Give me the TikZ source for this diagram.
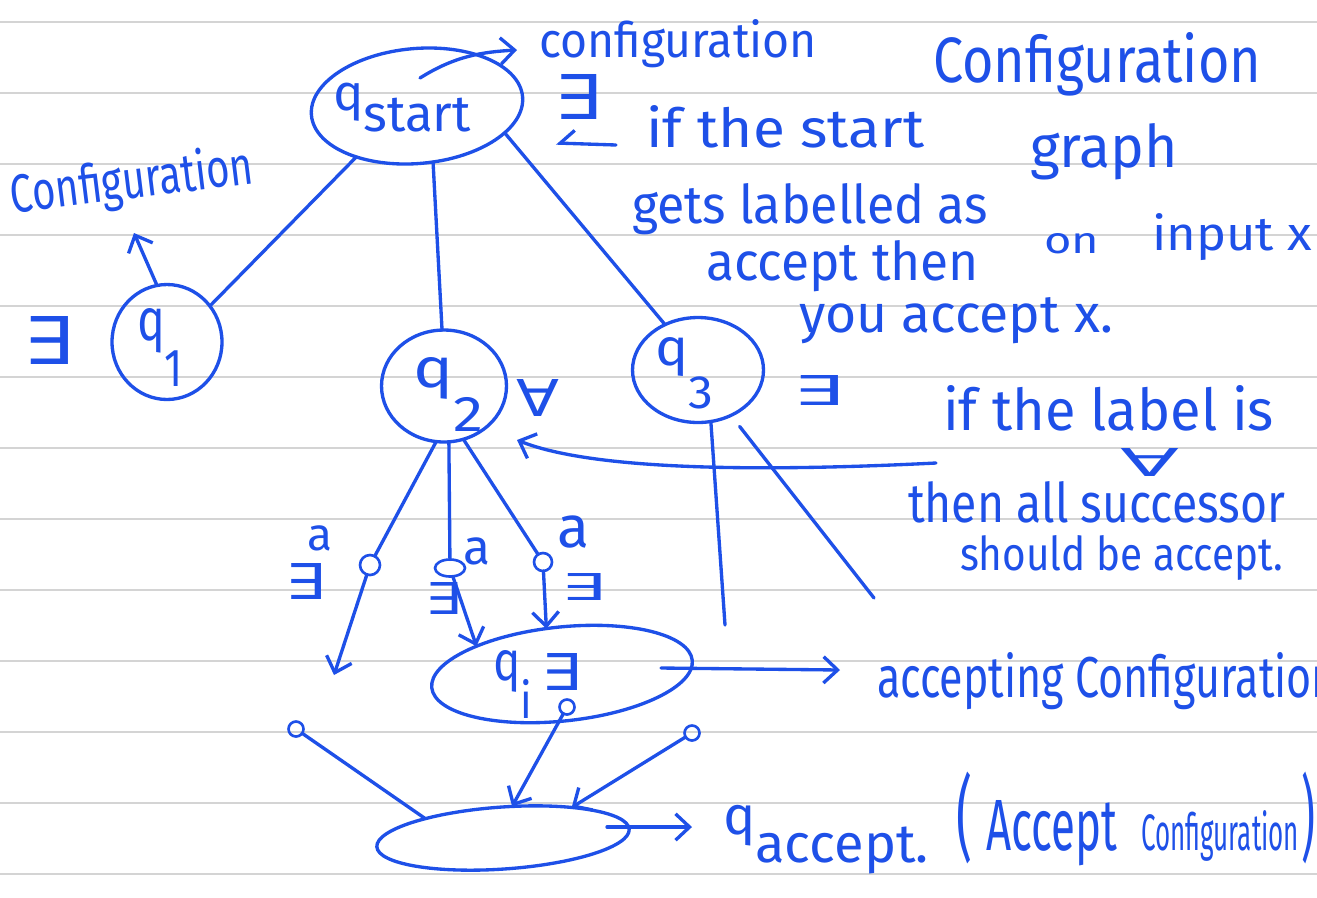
\documentclass[tikz,border=0pt]{standalone}
\usepackage{fontspec}
\setmainfont{Fira Sans}
\newfontfamily\symf{DejaVu Sans}
\usepackage{graphicx}
\usetikzlibrary{shapes.geometric,arrows.meta}
\definecolor{ink}{RGB}{30,80,232}
\definecolor{ruleline}{RGB}{212,212,212}
\newlength{\pxu}\setlength{\pxu}{0.02cm}
\newcommand{\TW}[2]{\resizebox{#1\pxu}{!}{#2}}
\newcommand{\TWH}[3]{\resizebox{#1\pxu}{#2\pxu}{#3}}
\newcommand{\TWT}[3]{\resizebox*{#1\pxu}{#2\pxu}{#3}}
\newcommand{\EX}{{\symf ∃}}
\newcommand{\FA}{{\symf ∀}}
\begin{document}
\begin{tikzpicture}[x=0.02cm,y=-0.02cm,
 every node/.style={text=ink,inner sep=0pt,outer sep=0pt},
 pen/.style={draw=ink,line width=1.9pt,line cap=round},
 state/.style={ellipse,draw=ink,line width=1.9pt},
 dot/.style={circle,draw=ink,line width=1.5pt,minimum size=0.4cm},
 arr/.style={pen,-{Straight Barb[length=8pt,width=15pt]}},
 harp/.style={pen,-{Straight Barb[length=8pt,width=15pt,right]}},
 txt/.style={anchor=base west},
 sym/.style={anchor=center}]
\fill[white] (0,0) rectangle (1317,897);
\useasboundingbox (0,0) rectangle (1317,897);
\clip (0,0) rectangle (1317,897);
\foreach \yy in {22,93,...,874} \draw[ruleline,line width=1.1pt] (0,\yy) -- (1317,\yy);

% states
\node[state,minimum width=4.24cm,minimum height=2.3cm,rotate=5] (qstart) at (417,106) {};
\node[txt] (qsT) at (333,110) {\TW{138}{q\raisebox{-0.8ex}{start}}};
\node[state,minimum width=2.2cm,minimum height=2.3cm] (q1) at (167,342) {};
\node[txt] (q1T) at (137,340) {\TWH{46}{32}{q\raisebox{-1.5ex}{\small 1}}};
\node[state,minimum width=2.5cm,minimum height=2.24cm] (q2) at (444,386) {};
\node[txt] (q2T) at (413,387) {\TWH{70}{30}{q\raisebox{-1.5ex}{\small 2}}};
\node[state,minimum width=2.62cm,minimum height=2.1cm] (q3) at (698,370) {};
\node[txt] (q3T) at (655,365) {\TWH{58}{28}{q\raisebox{-1.6ex}{\small 3}}};
\node[state,minimum width=5.24cm,minimum height=1.88cm,rotate=6] (qi) at (562,674) {};
\node[txt] (qiT) at (493,680) {\TWH{39}{30}{q\raisebox{-1.3ex}{\small i}}};
\node[sym] (eqi) at (561,672) {\TWH{40}{37}{\EX}};
\node[state,minimum width=5.06cm,minimum height=1.24cm,rotate=4] (qacc) at (503,838) {};

% quantifier marks
\node[sym] (eS) at (578,97) {\TWH{47}{45}{\EX}};
\node[sym] (e1) at (48,340) {\TWH{50}{48}{\EX}};
\node[sym] (fa2) at (538,398) {\TWH{43}{37}{\FA}};
\node[sym] (e3) at (818,390) {\TWH{50}{30}{\EX}};
\node[sym] (ea) at (305,581) {\TWH{40}{36}{\EX}};
\node[sym] (eb) at (443,598) {\TWH{36}{32}{\EX}};
\node[sym] (ec) at (583,587) {\TWH{44}{27}{\EX}};
\node[sym] (faL) at (1150,462) {\TWH{59}{28}{\FA}};
\node[sym] (a1) at (320,538) {\TW{25}{a}};
\node[sym] (a2) at (477,551) {\TW{27}{a}};
\node[sym] (a3) at (573,532) {\TW{32}{a}};

% small configuration dots
\node[dot] (c1) at (370,565) {};
\node[dot,ellipse,minimum width=0.6cm,minimum height=0.34cm] (c2) at (450,568) {};
\node[dot,minimum size=0.36cm] (c3) at (543,562) {};
\node[dot,minimum size=0.3cm] (c4) at (296,729) {};
\node[dot,minimum size=0.3cm] (c5) at (692,733) {};
\node[dot,minimum size=0.3cm] (c6) at (567,707) {};

% texts
\node[txt] (cfgTop) at (539,57) {\TWH{278}{38}{configuration}};
\node[txt] (cfgBig) at (933,82) {\TWH{328}{50}{Configuration}};
\node[txt,rotate=7] (cfgL) at (13,213) {\TWH{244}{42}{Configuration}};
\node[txt] (ifS) at (646,147) {\TWH{278}{42}{if the start}};
\node[txt] (gets) at (632,223) {\TWH{356}{40}{gets labelled as}};
\node[txt] (graph) at (1030,167) {\TWH{148}{44}{graph}};
\node[txt] (accT) at (706,280) {\TWH{273}{40}{accept then}};
\node[txt] (on) at (1044,253) {\TWH{55}{20}{on}};
\node[txt] (inx) at (1152,250) {\TWH{160}{37}{input x}};
\node[txt] (you) at (799,332) {\TWH{314}{35}{you accept x.}};
\node[txt] (labIf) at (943,430) {\TWH{331}{45}{if the label is}};
\node[txt] (then) at (908,522) {\TWH{377}{41}{then all successor}};
\node[txt] (should) at (960,570) {\TWH{323}{35}{should be accept.}};
\node[txt] (accC) at (877,697) {\TWH{460}{45}{accepting Configuration}};
\node[txt] (qaT) at (723,834) {\TW{206}{q\raisebox{-1ex}{accept.}}};
\node[txt] (accP) at (956,850) {\TWT{16}{92}{(}\hspace{14\pxu}\TWH{131}{50}{Accept}\hspace{24\pxu}\TWH{158}{40}{Configuration}\hspace{2\pxu}\TWT{14}{92}{)}};

% coordinates for free ends
\coordinate (d1) at (334,675);
\coordinate (q3a) at (725,625);
\coordinate (q3b) at (874,598);

% connectors
\draw[pen] (qstart.215) -- (q1.40);
\draw[pen] (qstart.281) -- (q2.92);
\draw[pen] (qstart.338) -- (q3.126);
\draw[arr] (q1.100) -- ([shift={(121,20)}]cfgL.base west);
\draw[arr] ([shift={(3,-28)}]qstart.center) .. controls +(35,-22) and +(-35,2) .. ([shift={(-22,-7)}]cfgTop.base west);
\draw[harp] ([shift={(-30,-2)}]ifS.base west) -- ([shift={(-90,-4)}]ifS.base west);
\draw[pen] (q2.262) -- (c1);
\draw[pen] (q2.275) -- (c2);
\draw[pen] (q2.290) -- (c3);
\draw[arr] (c1) -- (d1);
\draw[arr] (c2) -- (qi.156);
\draw[arr] (c3) -- (qi.103);
\draw[pen] (q3.284) -- (q3a);
\draw[pen,shorten <=8pt] (q3.306) -- (q3b);
\draw[arr] ([shift={(-7,33)}]labIf.base west) .. controls +(-200,10) and +(70,28) .. ([shift={(73,54)}]q2.center);
\draw[arr] ([shift={(99,-6)}]qi.center) -- ([shift={(-37,-27)}]accC.base west);
\draw[arr] (c6) -- (qacc.70);
\draw[pen] (c4) -- (qacc.162);
\draw[arr] (c5) -- (qacc.20);
\draw[arr] ([shift={(104,-11)}]qacc.center) -- ([shift={(-31,-7)}]qaT.base west);
\end{tikzpicture}
\end{document}
